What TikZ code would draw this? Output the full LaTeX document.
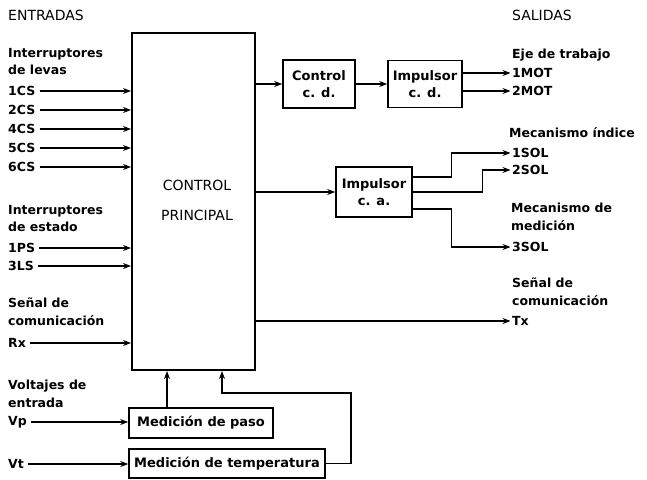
\documentclass[tikz,border=0pt]{standalone}
\usepackage{fontspec}
\setmainfont{DejaVu Sans}
\usetikzlibrary{arrows.meta}
\begin{document}
\begin{tikzpicture}[x=1pt,y=-1pt,
  lab/.style={font=\bfseries\fontsize{12.5}{17.5}\selectfont, inner sep=0pt, align=left},
  hdr/.style={font=\fontsize{14}{17}\selectfont, inner sep=0pt},
  blk/.style={draw, line width=1.6pt, font=\bfseries\fontsize{13}{17}\selectfont, align=center, inner sep=0pt},
  arr/.style={-{Stealth[length=8pt,width=6pt]}, line width=1.1pt}]
\useasboundingbox (0,0) rectangle (647,479);

% headers
\node[hdr, anchor=west] (ent) at (8,15.5) {ENTRADAS};
\node[hdr, anchor=west] (sal) at (512,15) {SALIDAS};

% main block
\node[draw, line width=2pt, minimum width=123pt, minimum height=337pt, inner sep=0pt] (main) at (193.5,201.5) {};
\node[hdr] (ctl) at (197,185) {CONTROL};
\node[hdr] (pri) at (197,215) {PRINCIPAL};

% blocks
\node[blk, minimum width=72pt, minimum height=48pt] (cdc) at (319,84) {Control\\c. d.};
\node[blk, minimum width=74pt, minimum height=47pt] (icd) at (425,84) {Impulsor\\c. d.};
\node[blk, minimum width=76pt, minimum height=50pt] (ica) at (374,192) {Impulsor\\c. a.};
\node[blk, minimum width=144pt, minimum height=30pt] (paso) at (201,423) {Medición de paso};
\node[blk, minimum width=196pt, minimum height=29pt] (temp) at (227,463.5) {Medición de temperatura};

% left labels
\node[lab, anchor=north west] (g1) at (8,48) {Interruptores\\de levas};
\node[lab, anchor=west] (cs1) at (8,91) {1CS};
\node[lab, anchor=west] (cs2) at (8,110) {2CS};
\node[lab, anchor=west] (cs4) at (8,129) {4CS};
\node[lab, anchor=west] (cs5) at (8,148) {5CS};
\node[lab, anchor=west] (cs6) at (8,167) {6CS};
\node[lab, anchor=north west] (g2) at (8,205) {Interruptores\\de estado};
\node[lab, anchor=west] (ps1) at (8,248) {1PS};
\node[lab, anchor=west] (ls3) at (8,266) {3LS};
\node[lab, anchor=north west] (g3) at (8,298) {Señal de\\comunicación};
\node[lab, anchor=west] (rx) at (8,343) {Rx};
\node[lab, anchor=north west] (g4) at (8,380) {Voltajes de\\entrada};
\node[lab, anchor=west] (vp) at (8,422) {Vp};
\node[lab, anchor=west] (vt) at (8,464) {Vt};

% right labels
\node[lab, anchor=west] (r1) at (512,55) {Eje de trabajo};
\node[lab, anchor=west] (mot1) at (512,73) {1MOT};
\node[lab, anchor=west] (mot2) at (512,91) {2MOT};
\node[lab, anchor=west] (r2) at (509,133) {Mecanismo índice};
\node[lab, anchor=west] (sol1) at (512,153) {1SOL};
\node[lab, anchor=west] (sol2) at (512,170) {2SOL};
\node[lab, anchor=north west] (r3) at (511,203) {Mecanismo de\\medición};
\node[lab, anchor=west] (sol3) at (512,247) {3SOL};
\node[lab, anchor=north west] (r4) at (512,278) {Señal de\\comunicación};
\node[lab, anchor=west] (tx) at (512,321) {Tx};

% input connectors
\foreach \n in {cs1,cs2,cs4,cs5,cs6,ps1,ls3,rx}
  \draw[arr, shorten <=4pt] (\n.east) -- (\n.east -| main.west);
\draw[arr, shorten <=4pt] (vp.east) -- (vp.east -| paso.west);
\draw[arr, shorten <=4pt] (vt.east) -- (vt.east -| temp.west);

% feedback into main
\coordinate (ux1) at (167,0);
\coordinate (fb) at (351,393);
\coordinate (ux2) at (222,393);
\draw[arr] (ux1 |- paso.north) -- (ux1 |- main.south);
\draw[arr] (temp.east) -| (fb) -- (ux2) -- (ux2 |- main.south);

% outputs
\draw[arr] (main.east |- cdc.west) -- (cdc.west);
\draw[arr] (cdc.east) -- (icd.west);
\draw[arr, shorten >=1.5pt] (icd.east |- mot1.west) -- (mot1.west);
\draw[arr, shorten >=1.5pt] (icd.east |- mot2.west) -- (mot2.west);
\draw[arr] (main.east |- ica.west) -- (ica.west);
\draw[arr, shorten >=1.5pt] ([yshift=15pt]ica.east) -- ++(39,0) |- (sol1.west);
\draw[arr, shorten >=1.5pt] (ica.east) -- ++(70,0) |- (sol2.west);
\draw[arr, shorten >=1.5pt] ([yshift=-17pt]ica.east) -- ++(39,0) |- (sol3.west);
\draw[arr, shorten >=1.5pt] (main.east |- tx.west) -- (tx.west);
\end{tikzpicture}
\end{document}
